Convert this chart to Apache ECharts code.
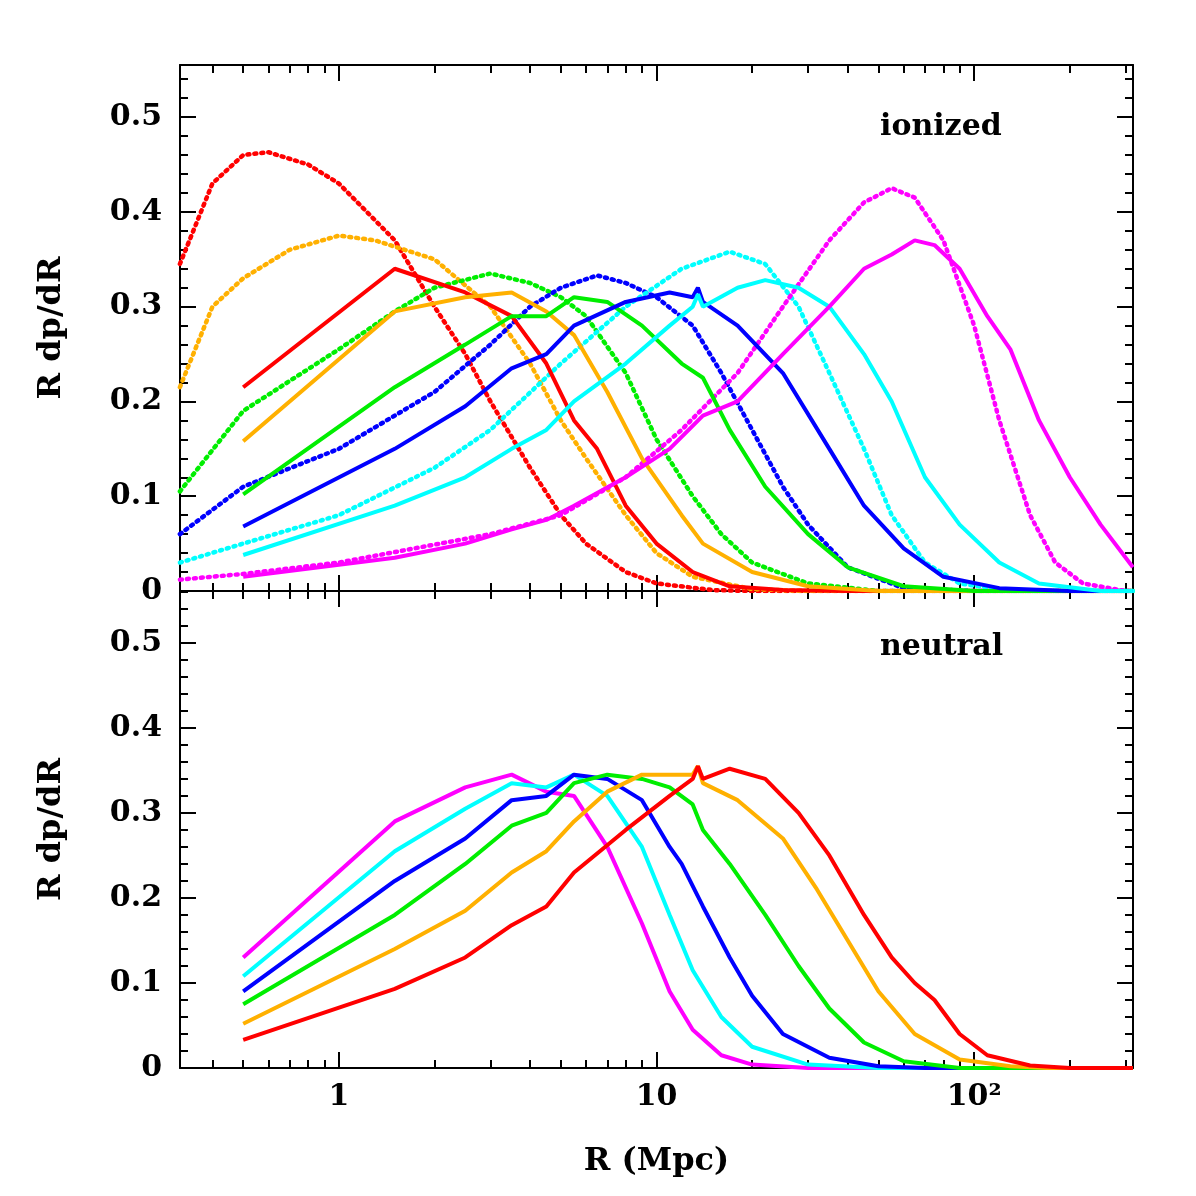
<!DOCTYPE html>
<html><head><meta charset="utf-8">
<script src="https://cdn.jsdelivr.net/npm/echarts@6/dist/echarts.min.js"></script>
<style>html,body{margin:0;padding:0;background:#fff}#c{width:1196px;height:1196px}</style>
</head><body><div id="c"></div>
<script>
const colors = ['#ff0000','#ffb000','#00ee00','#0000ff','#00ffff','#ff00ff'];
const xTickLabels = {0:'1',1:'10',2:'10²'};
const yTicks = [0,0.1,0.2,0.3,0.4,0.5];
// top panel (ionized), solid: [R, R dp/dR]
const ionRed = [[0.5,0.215],[1.5,0.34],[2.5,0.315],[3.5,0.29],[4.5,0.24],[5.5,0.18],[6.5,0.15],[8,0.09],[10,0.05],[13,0.02],[17,0.005],[25,0.001],[40,0],[316,0]];
const ionOrange = [[0.5,0.158],[1.5,0.295],[2.5,0.31],[3.5,0.315],[4.5,0.295],[5.5,0.27],[7,0.21],[9,0.14],[12,0.08],[14,0.05],[20,0.02],[30,0.005],[50,0],[316,0]];
const ionGreen = [[0.5,0.102],[1.5,0.215],[2.5,0.26],[3.5,0.29],[4.5,0.29],[5.5,0.31],[7,0.305],[9,0.28],[12,0.24],[14,0.225],[17,0.17],[22,0.11],[30,0.06],[40,0.025],[60,0.005],[100,0],[316,0]];
const ionBlue = [[0.5,0.068],[1.5,0.15],[2.5,0.195],[3.5,0.235],[4.5,0.25],[5.5,0.28],[8,0.305],[11,0.315],[13,0.31],[13.5,0.32],[14,0.305],[18,0.28],[25,0.23],[35,0.15],[45,0.09],[60,0.045],[80,0.015],[120,0.003],[200,0],[316,0]];
const ionCyan = [[0.5,0.038],[1.5,0.09],[2.5,0.12],[3.5,0.15],[4.5,0.17],[5.5,0.2],[8,0.24],[11,0.28],[13,0.3],[13.5,0.313],[14,0.3],[18,0.32],[22,0.328],[28,0.32],[35,0.3],[45,0.25],[55,0.2],[70,0.12],[90,0.07],[120,0.03],[160,0.008],[250,0],[316,0]];
const ionMagenta = [[0.5,0.015],[1.5,0.035],[2.5,0.05],[3.5,0.065],[4.5,0.075],[5.5,0.09],[8,0.12],[11,0.15],[14,0.185],[18,0.2],[25,0.25],[35,0.3],[45,0.34],[55,0.355],[65,0.37],[75,0.365],[90,0.34],[110,0.29],[130,0.255],[160,0.18],[200,0.12],[250,0.07],[316,0.025]];
// top panel, dotted
const dotRed = [[0.316,0.345],[0.4,0.43],[0.5,0.46],[0.6,0.463],[0.8,0.45],[1,0.43],[1.5,0.37],[2,0.3],[2.5,0.25],[3,0.2],[4,0.13],[5,0.08],[6,0.05],[8,0.02],[10,0.008],[15,0.001],[20,0],[316,0]];
const dotOrange = [[0.316,0.215],[0.4,0.3],[0.5,0.33],[0.7,0.36],[1,0.375],[1.3,0.37],[2,0.35],[3,0.3],[4,0.24],[5,0.18],[6,0.14],[8,0.08],[10,0.04],[13,0.015],[20,0.002],[30,0],[316,0]];
const dotGreen = [[0.316,0.105],[0.5,0.19],[1,0.255],[1.5,0.295],[2,0.32],[3,0.335],[4,0.325],[5,0.31],[6,0.29],[8,0.23],[10,0.16],[13,0.1],[16,0.06],[20,0.03],[30,0.008],[50,0],[316,0]];
const dotBlue = [[0.316,0.06],[0.5,0.11],[1,0.15],[2,0.21],[3,0.26],[4,0.3],[5,0.32],[6.5,0.333],[8,0.325],[10,0.31],[13,0.28],[16,0.23],[20,0.17],[25,0.11],[30,0.07],[40,0.025],[60,0.003],[100,0],[316,0]];
const dotCyan = [[0.316,0.03],[0.5,0.05],[1,0.08],[2,0.13],[3,0.17],[5,0.24],[8,0.3],[12,0.34],[17,0.358],[22,0.345],[28,0.3],[35,0.23],[45,0.15],[55,0.08],[70,0.03],[90,0.008],[130,0],[316,0]];
const dotMagenta = [[0.316,0.012],[0.5,0.018],[1,0.03],[3,0.06],[5,0.08],[8,0.12],[12,0.17],[18,0.23],[25,0.3],[35,0.37],[45,0.41],[55,0.425],[65,0.415],[80,0.37],[100,0.28],[120,0.18],[150,0.08],[180,0.03],[220,0.008],[300,0],[316,0]];
// bottom panel (neutral)
const neuMagenta = [[0.5,0.13],[1.5,0.29],[2.5,0.33],[3.5,0.345],[4.5,0.325],[5.5,0.32],[7,0.26],[9,0.17],[11,0.09],[13,0.045],[16,0.015],[20,0.004],[30,0],[316,0]];
const neuCyan = [[0.5,0.108],[1.5,0.255],[2.5,0.305],[3.5,0.335],[4.5,0.33],[5.5,0.345],[7,0.32],[9,0.26],[11,0.18],[13,0.115],[16,0.06],[20,0.025],[30,0.004],[50,0],[316,0]];
const neuBlue = [[0.5,0.09],[1.5,0.22],[2.5,0.27],[3.5,0.315],[4.5,0.32],[5.5,0.345],[7,0.34],[9,0.315],[11,0.26],[12,0.24],[14,0.19],[17,0.13],[20,0.085],[25,0.04],[35,0.012],[50,0.002],[70,0],[316,0]];
const neuGreen = [[0.5,0.075],[1.5,0.18],[2.5,0.24],[3.5,0.285],[4.5,0.3],[5.5,0.335],[7,0.345],[9,0.34],[11,0.33],[13,0.31],[14,0.28],[17,0.24],[22,0.18],[28,0.12],[35,0.07],[45,0.03],[60,0.008],[90,0],[316,0]];
const neuOrange = [[0.5,0.052],[1.5,0.14],[2.5,0.185],[3.5,0.23],[4.5,0.255],[5.5,0.29],[7,0.325],[9,0.345],[11,0.345],[13,0.345],[13.5,0.355],[14,0.335],[18,0.315],[25,0.27],[32,0.21],[40,0.15],[50,0.09],[65,0.04],[90,0.01],[130,0.002],[170,0],[316,0]];
const neuRed = [[0.5,0.033],[1.5,0.093],[2.5,0.13],[3.5,0.168],[4.5,0.19],[5.5,0.23],[8,0.28],[11,0.32],[13,0.34],[13.5,0.355],[14,0.34],[17,0.352],[22,0.34],[28,0.3],[35,0.25],[45,0.18],[55,0.13],[65,0.1],[75,0.08],[90,0.04],[110,0.015],[150,0.003],[200,0],[316,0]];

const FONT = 'DejaVu Serif';
const lg = d => d.map(p => [Math.log10(p[0]), p[1]]);
const XMIN = -0.5, XMAX = 2.5;
const major = [0,1,2];
const minor = [];
for (let d=-1; d<=2; d++) for (let k=2;k<=9;k++){const v=Math.log10(k)+d; if(v>XMIN&&v<XMAX) minor.push(v);}

function xAxes(grid, showLabels){
  const base = {type:'value', gridIndex:grid, min:XMIN, max:XMAX, splitLine:{show:false},
    axisLine:{onZero:false, lineStyle:{color:'#000',width:2}}};
  return [
    Object.assign({}, base, {position:'bottom', axisTick:{inside:true,length:16,lineStyle:{width:2,color:'#000'},customValues:major},
      axisLabel:{show:showLabels, customValues:major, formatter:v=>xTickLabels[Math.round(v)]||'', fontFamily:FONT, fontWeight:'bold', fontSize:30, color:'#000', margin:14}}),
    Object.assign({}, base, {position:'bottom', axisLine:{show:false,onZero:false}, axisTick:{inside:true,length:8,lineStyle:{width:2,color:'#000'},customValues:minor}, axisLabel:{show:false}}),
    Object.assign({}, base, {position:'top', axisTick:{inside:true,length:16,lineStyle:{width:2,color:'#000'},customValues:major}, axisLabel:{show:false}}),
    Object.assign({}, base, {position:'top', axisLine:{show:false,onZero:false}, axisTick:{inside:true,length:8,lineStyle:{width:2,color:'#000'},customValues:minor}, axisLabel:{show:false}})
  ];
}
function yAxes(grid, max){
  const base = {type:'value', gridIndex:grid, min:0, max:max, interval:0.1, splitLine:{show:false},
    axisLine:{onZero:false, lineStyle:{color:'#000',width:2}},
    axisTick:{inside:true,length:16,lineStyle:{width:2,color:'#000'}},
    minorTick:{show:true,splitNumber:5,length:8,lineStyle:{width:2,color:'#000'}}};
  return [
    Object.assign({}, base, {position:'left', axisLabel:{fontFamily:FONT,fontWeight:'bold',fontSize:30,color:'#000',margin:18,showMaxLabel:false,
        formatter:v=>v>0.55?'':(v===0?'0':v.toFixed(1))},
      name:'R dp/dR', nameLocation:'middle', nameGap:112, nameTextStyle:{fontFamily:FONT,fontWeight:'bold',fontSize:32,color:'#000'}}),
    Object.assign({}, base, {position:'right', axisLabel:{show:false}})
  ];
}
function line(data, color, xi, yi, dotted){
  return {type:'line', data:lg(data), xAxisIndex:xi, yAxisIndex:yi, showSymbol:false, symbol:'none', silent:true,
    lineStyle:{color:color, width:dotted?4.5:4, type:dotted?[2,5]:'solid', cap:dotted?'round':'butt'}};
}
const topSolid=[ionRed,ionOrange,ionGreen,ionBlue,ionCyan,ionMagenta];
const topDot=[dotRed,dotOrange,dotGreen,dotBlue,dotCyan,dotMagenta];
const bot=[neuRed,neuOrange,neuGreen,neuBlue,neuCyan,neuMagenta];
const series=[];
topDot.forEach((d,i)=>series.push(line(d,colors[i],0,0,true)));
topSolid.forEach((d,i)=>series.push(line(d,colors[i],0,0,false)));
bot.slice().reverse().forEach((d,i)=>series.push(line(d,colors[5-i],4,2,false)));

const chart = echarts.init(document.getElementById('c'));
chart.setOption({
  animation:false, backgroundColor:'#fff',
  grid:[{left:180,top:65,width:953,height:526},{left:180,top:591,width:953,height:477}],
  xAxis:[...xAxes(0,false), ...xAxes(1,true).map((a,i)=>i===0?Object.assign(a,{name:'R (Mpc)',nameLocation:'middle',nameGap:78,nameTextStyle:{fontFamily:FONT,fontWeight:'bold',fontSize:32,color:'#000'}}):a)],
  yAxis:[...yAxes(0,0.555), ...yAxes(1,0.561)],
  series:series,
  graphic:[
    {type:'text', left:880, top:112, style:{text:'ionized', font:'bold 30px "DejaVu Serif"', fill:'#000'}},
    {type:'text', left:880, top:632, style:{text:'neutral', font:'bold 30px "DejaVu Serif"', fill:'#000'}}
  ]
});
</script></body></html>
